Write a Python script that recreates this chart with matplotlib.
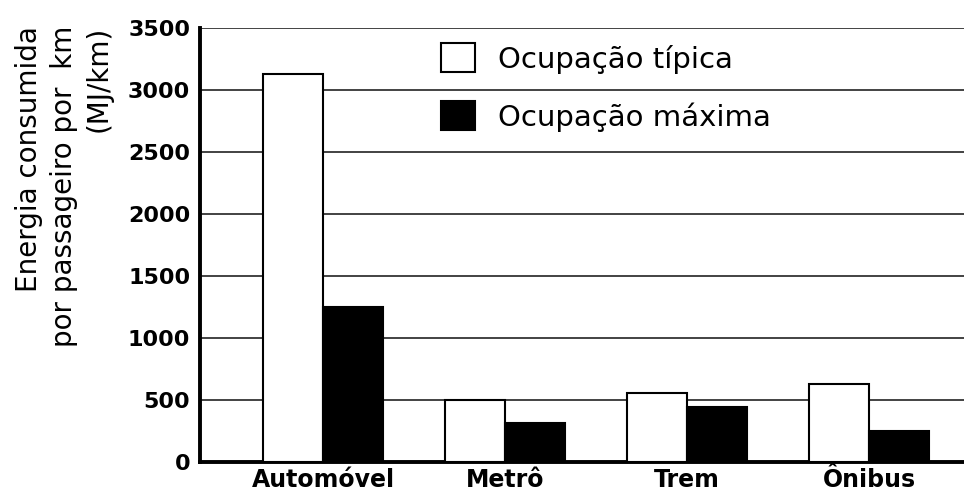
import numpy as np
import matplotlib
matplotlib.use('Agg')
import matplotlib.pyplot as plt

# Energy per passenger-km (MJ/km)
categorias = ['Automóvel', 'Metrô', 'Trem', 'Ônibus']
ocupacao_tipica = [3130, 500, 560, 625]
ocupacao_maxima = [1250, 315, 440, 250]
yticks = [0, 500, 1000, 1500, 2000, 2500, 3000, 3500]

plt.rcParams['font.family'] = ['DejaVu Sans']

fig = plt.figure(figsize=(9.64, 4.95), dpi=100)
ax = fig.add_axes([0.2075, 0.0667, 0.7925, 0.8768])

x = np.arange(len(categorias))
w = 0.33
ax.bar(x - w / 2, ocupacao_tipica, w, color='white', edgecolor='black',
       linewidth=1.5, label='Ocupação típica', zorder=3)
ax.bar(x + w / 2, ocupacao_maxima, w, color='black', edgecolor='black',
       linewidth=1.5, label='Ocupação máxima', zorder=3)

ax.set_xlim(-0.676, 3.52)
ax.set_ylim(0, 3500)
ax.set_yticks(yticks)
ax.set_yticklabels([str(v) for v in yticks], fontsize=16, fontweight='bold')
ax.set_xticks(x)
ax.set_xticklabels(categorias, fontsize=17, fontweight='bold')
ax.tick_params(axis='both', length=0)
ax.tick_params(axis='y', pad=7)
ax.tick_params(axis='x', pad=4)

ax.yaxis.grid(True, color='#222222', linewidth=1.2, zorder=0)
ax.set_axisbelow(True)
for s in ['top', 'right']:
    ax.spines[s].set_visible(False)
ax.spines['left'].set_linewidth(2.8)
ax.spines['bottom'].set_linewidth(2.8)

fig.text(0.066, 0.948, 'Energia consumida\npor passageiro por  km\n(MJ/km)',
         rotation=90, ha='center', va='top', multialignment='right',
         fontsize=20, linespacing=1.3)

ax.legend(loc='upper left', bbox_to_anchor=(0.316, 0.965), frameon=False,
          fontsize=21, handlelength=1.15, handleheight=1.15, handletextpad=0.8,
          labelspacing=0.95, borderpad=0, borderaxespad=0)

fig.savefig('out.png', dpi=100)
